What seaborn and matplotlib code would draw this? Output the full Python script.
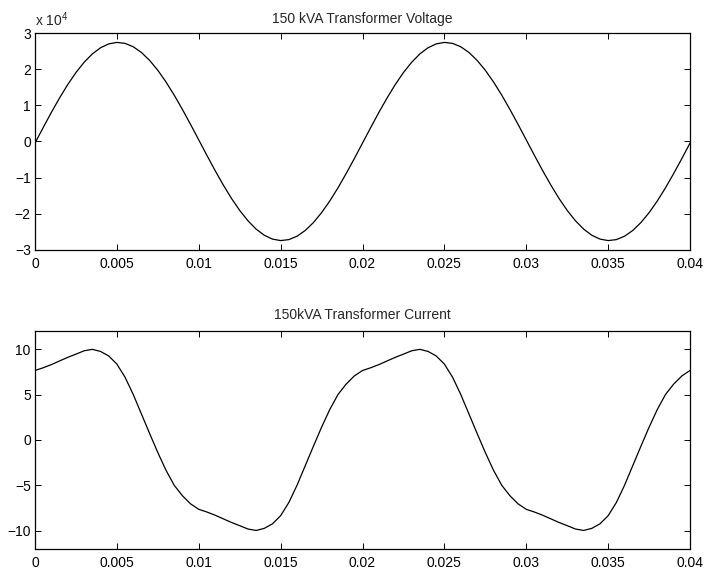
import numpy as np
import matplotlib
matplotlib.use("Agg")
import matplotlib.pyplot as plt
from matplotlib.ticker import FuncFormatter
import seaborn as sns

# time grid: 0 .. 0.04 s sampled every 0.5 ms
time_s = np.linspace(0, 0.04, 81)

# voltage
voltage = [
    -430, 3860, 8060, 12050, 15760, 19070, 21910, 24220, 25920, 26990,
    27400, 27130, 26190, 24610, 22420, 19680, 16450, 12820, 8870, 4710,
    430, -3860, -8060, -12050, -15760, -19070, -21910, -24220, -25920, -26990,
    -27400, -27130, -26190, -24610, -22420, -19680, -16450, -12820, -8870, -4710,
    -430, 3860, 8060, 12050, 15760, 19070, 21910, 24220, 25920, 26990,
    27400, 27130, 26190, 24610, 22420, 19680, 16450, 12820, 8870, 4710,
    430, -3860, -8060, -12050, -15760, -19070, -21910, -24220, -25920, -26990,
    -27400, -27130, -26190, -24610, -22420, -19680, -16450, -12820, -8870, -4710,
    -430,
]

# current
current = [
    7.65, 7.95, 8.3, 8.7, 9.1, 9.45, 9.82, 9.98, 9.75, 9.25,
    8.35, 6.9, 5.0, 2.85, 0.7, -1.4, -3.35, -5.0, -6.15, -7.05,
    -7.65, -7.95, -8.3, -8.7, -9.1, -9.45, -9.82, -9.98, -9.75, -9.25,
    -8.35, -6.9, -5.0, -2.85, -0.7, 1.4, 3.35, 5.0, 6.15, 7.05,
    7.65, 7.95, 8.3, 8.7, 9.1, 9.45, 9.82, 9.98, 9.75, 9.25,
    8.35, 6.9, 5.0, 2.85, 0.7, -1.4, -3.35, -5.0, -6.15, -7.05,
    -7.65, -7.95, -8.3, -8.7, -9.1, -9.45, -9.82, -9.98, -9.75, -9.25,
    -8.35, -6.9, -5.0, -2.85, -0.7, 1.4, 3.35, 5.0, 6.15, 7.05,
    7.65,
]

x_ticks = [0, 0.005, 0.01, 0.015, 0.02, 0.025, 0.03, 0.035, 0.04]
v_ticks = [-3e4, -2e4, -1e4, 0, 1e4, 2e4, 3e4]
i_ticks = [-10, -5, 0, 5, 10]

sns.set_style("ticks")
plt.rcParams["font.family"] = ["Liberation Sans", "DejaVu Sans"]
plt.rcParams["mathtext.fontset"] = "custom"
plt.rcParams["mathtext.rm"] = "Liberation Sans"
plt.rcParams["axes.unicode_minus"] = True

FS = 10

fig = plt.figure(figsize=(7.06, 5.71), dpi=100)
ax1 = fig.add_axes([0.0496, 0.5622, 0.9278, 0.3800])
ax2 = fig.add_axes([0.0496, 0.0389, 0.9278, 0.3814])


def style_axes(ax):
    for s in ax.spines.values():
        s.set_visible(True)
        s.set_color("black")
        s.set_linewidth(0.9)
    ax.tick_params(direction="in", top=True, right=True, length=4,
                   width=0.7, labelsize=FS, colors="black")
    ax.tick_params(axis="x", pad=5)
    ax.tick_params(axis="y", pad=3)
    ax.set_xlim(0, 0.04)
    ax.set_xticks(x_ticks)
    ax.xaxis.set_major_formatter(FuncFormatter(lambda v, p: f"{v:g}"))
    ax.set_xlabel("")
    ax.set_ylabel("")


sns.lineplot(x=time_s, y=voltage, ax=ax1, color="black", linewidth=0.9)
style_axes(ax1)
ax1.set_ylim(-3e4, 3e4)
ax1.set_yticks(v_ticks)
ax1.yaxis.set_major_formatter(
    FuncFormatter(lambda v, p: f"{v / 1e4:g}".replace("-", "\u2212")))
ax1.set_title("150 kVA Transformer Voltage", fontsize=FS, pad=7)
ax1.text(0, 1.02, "x 10$^{4}$", transform=ax1.transAxes,
         ha="left", va="bottom", fontsize=FS)

sns.lineplot(x=time_s, y=current, ax=ax2, color="black", linewidth=0.9)
style_axes(ax2)
ax2.set_ylim(-12, 12)
ax2.set_yticks(i_ticks)
ax2.yaxis.set_major_formatter(
    FuncFormatter(lambda v, p: f"{v:g}".replace("-", "\u2212")))
ax2.set_title("150kVA Transformer Current", fontsize=FS, pad=9)

fig.savefig("out.png", dpi=100)
plt.close(fig)
